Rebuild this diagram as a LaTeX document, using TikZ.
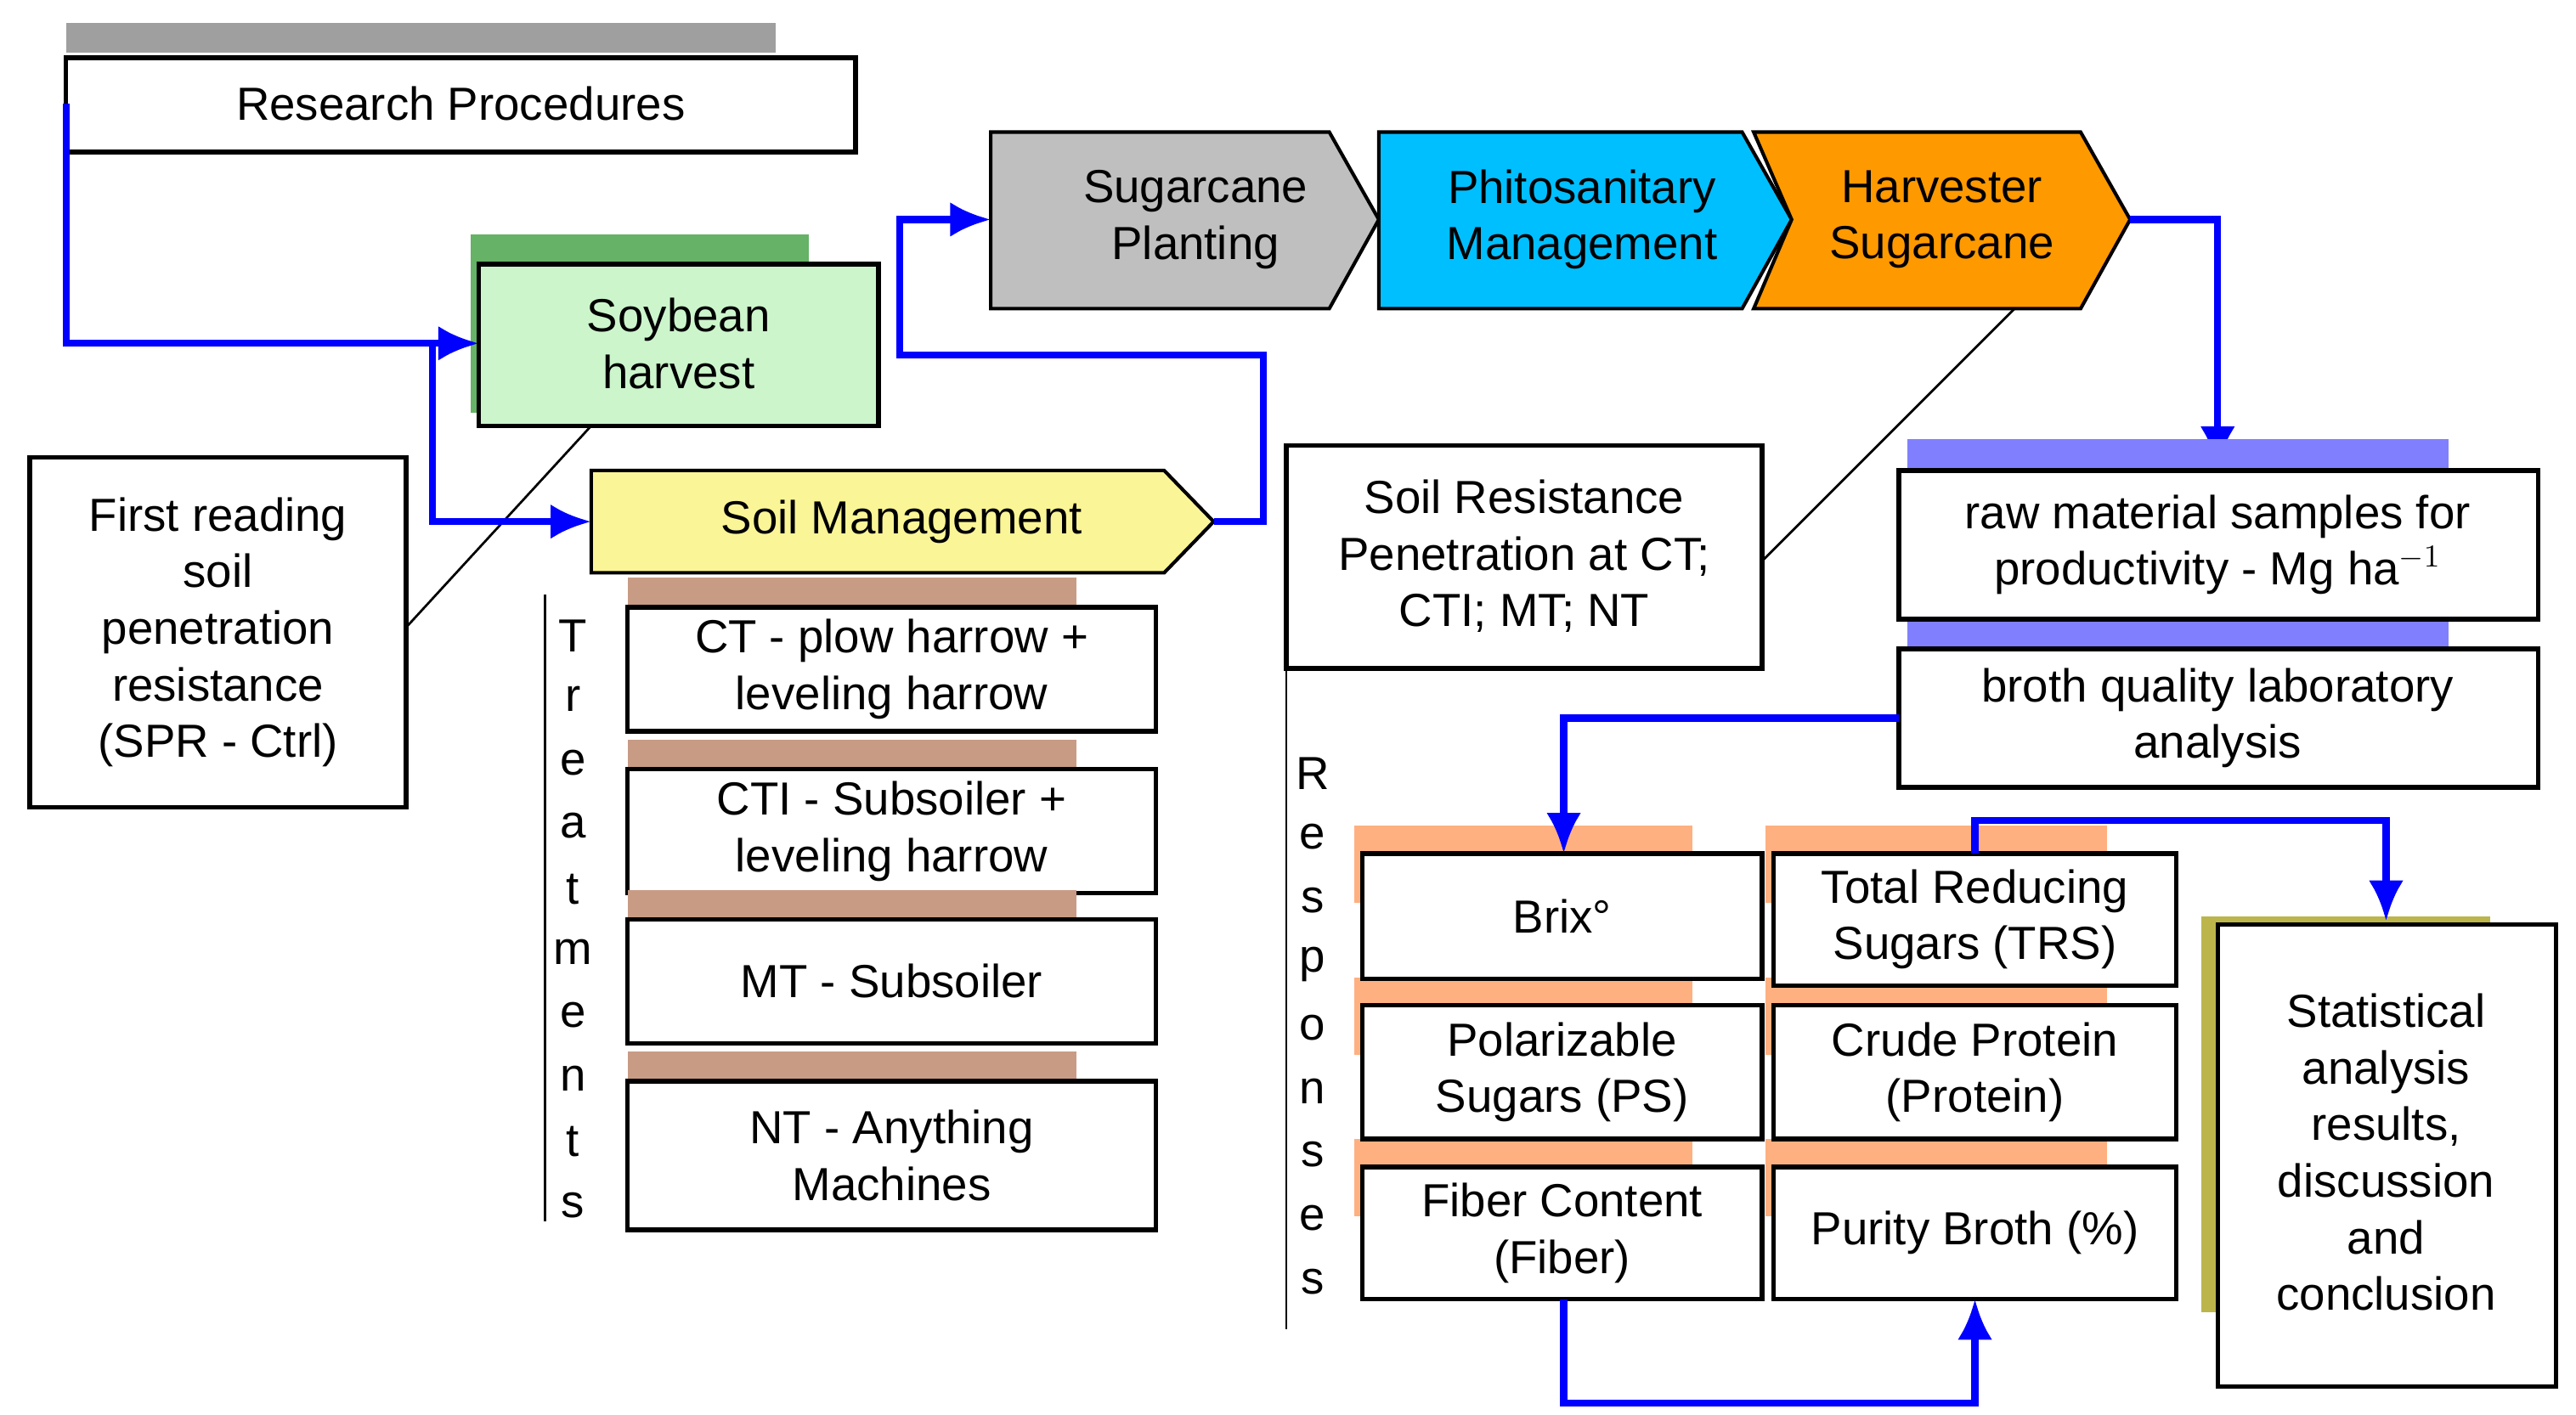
\documentclass[tikz,border=0pt]{standalone}
\usepackage{fontspec}
\setmainfont{Liberation Sans}
\begin{document}
\begin{tikzpicture}[x=0.02cm,y=-0.02cm,
 bx/.style={draw=black,line width=1.6pt,fill=white,align=center,inner sep=0pt,font=\fontsize{16}{19.5}\selectfont},
 conn/.style={draw=blue,line width=2.4pt,-{Latex[length=14pt,width=12pt]}},
 pl/.style={draw=blue,line width=2.4pt},
 txt/.style={font=\fontsize{16}{19.5}\selectfont,align=center},
 lt/.style={font=\fontsize{16}{19.5}\selectfont,inner sep=0pt}]
\usetikzlibrary{arrows.meta}
\useasboundingbox (0,0) rectangle (1560,857);
\definecolor{brn}{HTML}{C89B85}\definecolor{orn}{HTML}{FFB080}
% research
\fill[gray!75] (40,14) rectangle (470,32);
\draw[bx] (40,35) rectangle (518,92); \node[txt] (rp) at (279,63) {Research Procedures};
\coordinate (rpl) at (40,63);
% soybean
\fill[green!50!black!60] (285,142) rectangle (490,250);
\draw[bx,fill={rgb,255:red,204;green,245;blue,204}] (290,160) rectangle (532,258);
\node[txt] (soy) at (411,208) {Soybean\\harvest};
\coordinate (soyl) at (290,208);
% first reading
\draw[bx] (18,277) rectangle (246,489);
\node[txt] (fr) at (132,383) {First reading\\soil\\penetration\\resistance\\(SPR - Ctrl)};
\draw[line width=0.8pt] (246,380) -- (358,258);
% soil management
\draw[line width=1.2pt,fill={rgb,255:red,250;green,245;blue,150}] (358,285) -- (705,285) -- (735,316) -- (705,347) -- (358,347) -- cycle;
\node[txt] (sm) at (546,316) {Soil Management};
\coordinate (sml) at (358,316); \coordinate (smr) at (735,316);
% chevrons
\draw[line width=1.2pt,fill=gray!50] (600,80) -- (805,80) -- (835,133) -- (805,187) -- (600,187) -- cycle;
\node[txt] (sp) at (724,133) {Sugarcane\\Planting};
\draw[line width=1.2pt,fill={rgb,255:red,0;green,191;blue,255}] (835,80) -- (1055,80) -- (1085,133) -- (1055,187) -- (835,187) -- cycle;
\node[txt] (ph) at (958,133) {Phitosanitary\\Management};
\draw[line width=1.2pt,fill={rgb,255:red,255;green,153;blue,0}] (1062,80) -- (1260,80) -- (1290,133) -- (1260,187) -- (1062,187) -- (1085,133) -- cycle;
\node[txt] (hv) at (1176,133) {Harvester\\Sugarcane};
\coordinate (spl) at (600,133); \coordinate (hvr) at (1290,133);
% connectors
\draw[conn] (rpl) |- (soyl);
\draw[conn] (262,208) |- (sml);
\draw[conn] (smr) -- (765,316) -- (765,215) -- (545,215) -- (545,133) -- (spl);
\draw[conn] (hvr) -| (1343,283);
% soil resistance
\draw[bx] (779,270) rectangle (1067,405);
\node[txt] (sr) at (923,337) {Soil Resistance\\Penetration at CT;\\CTI; MT; NT};
\draw[line width=0.8pt] (1220,187) -- (1067,340);
\draw[line width=0.8pt] (779,405) -- (779,805);
\foreach \c [count=\i] in {R,e,s,p,o,n,s,e,s} \node[lt] at (795,430+38.5*\i) {\c};
% treatments
\draw[line width=0.8pt] (330,360) -- (330,740);
\foreach \c [count=\i] in {T,r,e,a,t,m,e,n,t,s} \node[lt] at (347,347+38.3*\i) {\c};
\foreach \ya/\yb/\t/\n in {368/443/{CT - plow harrow +\\leveling harrow}/ct,466/541/{CTI - Subsoiler +\\leveling harrow}/cti,557/632/{MT - Subsoiler}/mt,655/745/{NT - Anything\\Machines}/nt}{
 \fill[brn] (380,\ya-18) rectangle (652,\ya);
 \draw[bx] (380,\ya) rectangle (700,\yb);
 \node[txt] (\n) at (540,{(\ya+\yb)/2}) {\t};}
% raw material
\fill[blue!50] (1155,266) rectangle (1483,285);
\fill[blue!50] (1155,375) rectangle (1483,393);
\draw[bx] (1150,285) rectangle (1537,375);
\node[txt] (raw) at (1343,330) {raw material samples for\\productivity - Mg ha\textsuperscript{$-1$}};
\draw[bx] (1150,393) rectangle (1537,477);
\node[txt] (br) at (1343,435) {broth quality laboratory\\analysis};
% responses
\foreach \ya/\yb/\xa/\xb/\t/\n in {517/593/825/1067/{Brix°}/brix,609/690/825/1067/{Polarizable\\Sugars (PS)}/ps,707/787/825/1067/{Fiber Content\\(Fiber)}/fib,517/597/1074/1318/{Total Reducing\\Sugars (TRS)}/trs,609/690/1074/1318/{Crude Protein\\(Protein)}/cp,707/787/1074/1318/{Purity Broth (\%)}/pur}{
 \fill[orn] (\xa-5,\ya-17) rectangle (\xb-42,\ya+30);}
\foreach \ya/\yb/\xa/\xb/\t/\n in {517/593/825/1067/{Brix°}/brix,609/690/825/1067/{Polarizable\\Sugars (PS)}/ps,707/787/825/1067/{Fiber Content\\(Fiber)}/fib,517/597/1074/1318/{Total Reducing\\Sugars (TRS)}/trs,609/690/1074/1318/{Crude Protein\\(Protein)}/cp,707/787/1074/1318/{Purity Broth (\%)}/pur}{
 \draw[bx] (\xa,\ya) rectangle (\xb,\yb);
 \node[txt] (\n) at ({(\xa+\xb)/2},{(\ya+\yb)/2}) {\t};}
% stats
\fill[olive!60] (1333,555) rectangle (1508,795);
\draw[bx] (1343,560) rectangle (1548,840);
\node[txt] (st) at (1445,698) {Statistical\\analysis\\results,\\discussion\\and\\conclusion};
\draw[conn] (1150,435) -| (947,517);
\draw[conn] (947,787) -- (947,850) -| (1196,787);
\draw[conn] (1196,517) -- (1196,497) -| (1445,558);
\end{tikzpicture}
\end{document}
